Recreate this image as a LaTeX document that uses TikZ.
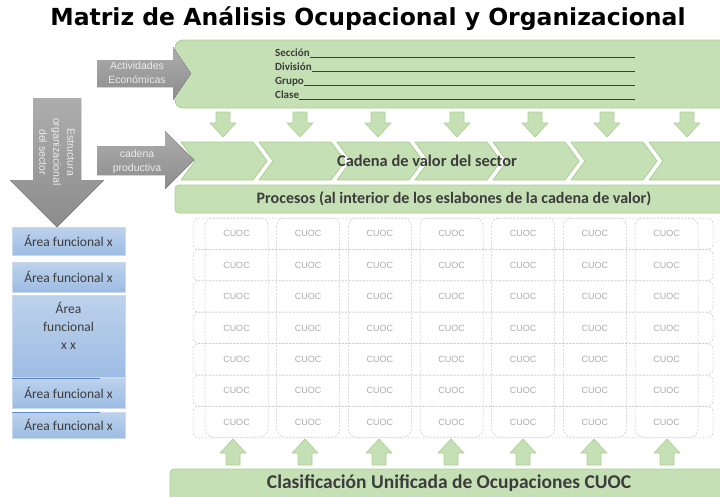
\documentclass[tikz,border=0pt]{standalone}
\usepackage{fontspec}
\setmainfont{Carlito}
\newfontfamily\titulofont{DejaVu Sans}
\newfontfamily\arialfont{Liberation Sans}
\definecolor{verde}{HTML}{C5E0B4}
\definecolor{verdeborde}{HTML}{A9CF91}
\definecolor{grisclaro}{HTML}{ADADAD}
\definecolor{grisoscuro}{HTML}{8C8C8C}
\definecolor{azulclaro}{HTML}{BDD2EC}
\definecolor{azul}{HTML}{9DBCE3}
\definecolor{azulborde}{HTML}{C9DAEF}
\definecolor{azullinea}{HTML}{5A8AC6}
\definecolor{textogris}{HTML}{3C3C3C}
\definecolor{cuocgris}{HTML}{ABABAB}
\definecolor{lineagris}{HTML}{C4C4C4}
\begin{document}
\begin{tikzpicture}[x=1pt,y=-1pt,
  verdebox/.style={fill=verde,draw=verdeborde,line width=.8pt},
  flechaverde/.style={fill=verde,draw=verdeborde,line width=.6pt},
  flechagris/.style={top color=grisclaro,bottom color=grisoscuro},
  textoflecha/.style={font=\arialfont\fontsize{10.5}{14}\selectfont,text=white!92!black,align=center},
  seccion/.style={font=\bfseries\fontsize{11}{12}\selectfont,text=textogris,inner sep=0pt},
  areabox/.style={top color=azulclaro,bottom color=azul,draw=azulborde,line width=.6pt},
  areatext/.style={font=\fontsize{13.5}{18}\selectfont,text=textogris,align=center},
  celda/.style={draw=lineagris,dash pattern=on 2pt off 1.5pt,line width=.5pt},
  cuoc/.style={font=\arialfont\fontsize{9}{10}\selectfont,text=cuocgris}]
\clip (0,0) rectangle (720,496);
\node[font=\titulofont\bfseries\fontsize{23.5}{28}\selectfont] (titulo) at (368,19) {Matriz de Análisis Ocupacional y Organizacional};
\draw[verdebox,rounded corners=8pt] (175,40) rectangle (735,108);
\foreach \n/\t/\y in {secc/Sección/56,divi/División/70,grupo/Grupo/84,clase/Clase/98}{
  \node[seccion,anchor=base west] (\n) at (275,\y) {\t};
  \draw[textogris,line width=.6pt] ([yshift=-1pt]\n.base east) -- ([yshift=-1pt]\n.base east -| 635,0);
}
\foreach \x in {223,300,378,457,535,607,687}
  \draw[flechaverde] (\x-7,112) -- (\x+7,112) -- (\x+7,123) -- (\x+13,123) -- (\x,137) -- (\x-13,123) -- (\x-7,123) -- cycle;
\foreach \i in {0,...,6}
  \draw[verdebox] ({181+78*\i},142) -- ++(72,0) -- ++(14,19) -- ++(-14,19) -- ++(-72,0) -- ++(14,-19) -- cycle;
\node[font=\bfseries\fontsize{16.4}{19}\selectfont,text=textogris] (cadenavalor) at (427,161) {Cadena de valor del sector};
\draw[verdebox,rounded corners=4pt] (175,185) rectangle (735,213);
\node[font=\bfseries\fontsize{16}{19}\selectfont,text=textogris] (procesos) at (454,199) {Procesos (al interior de los eslabones de la cadena de valor)};
\fill[flechagris] (97,60) -- (173,60) -- (173,47) -- (191,73.5) -- (173,100) -- (173,87) -- (97,87) -- cycle;
\node[textoflecha] (actividades) at (137,73) {Actividades\\Económicas};
\fill[flechagris] (97,146) -- (165,146) -- (165,131) -- (194,160) -- (165,189) -- (165,175) -- (97,175) -- cycle;
\node[textoflecha] (cadenaprod) at (137,162) {cadena\\productiva};
\fill[flechagris] (33,98) -- (81,98) -- (81,180) -- (104,180) -- (57,227) -- (10,180) -- (33,180) -- cycle;
\node[textoflecha,rotate=-90] (estructura) at (57,152) {Estructura\\organizacional\\del sector};
\foreach \ya/\yb in {227/255,262/292,295/377,378/408,412/438}
  \draw[areabox] (12,\ya) rectangle (125,\yb);
\draw[azullinea,line width=1pt] (12,378) -- (100,378) (12,412) -- (100,412);
\foreach \n/\y in {1/241,2/277,4/393,5/425}
  \node[areatext] (area\n) at (68.5,\y) {Área funcional x};
\node[areatext] (area3) at (68.5,326) {Área\\funcional\\x x};
\foreach \j in {0,...,6}
  \draw[celda,rounded corners=8pt] ({205+71.67*\j},218) rectangle ++(63,219);
\foreach \i in {0,...,6}
  \draw[celda,rounded corners=6pt] (193,{218+31.4*\i}) rectangle ++(520,31.4);
\foreach \i in {0,...,6}
  \foreach \j in {0,...,6}
    \node[cuoc] (c\i\j) at ({236.5+71.67*\j},{233.7+31.4*\i}) {CUOC};
\foreach \x in {233,305,379,451,523,594,667}
  \draw[flechaverde] (\x,439) -- (\x+13,453) -- (\x+7,453) -- (\x+7,465) -- (\x-7,465) -- (\x-7,453) -- (\x-13,453) -- cycle;
\draw[verdebox,rounded corners=4pt] (170,469) rectangle (735,505);
\node[font=\bfseries\fontsize{19.5}{23}\selectfont,text=textogris] (clasificacion) at (449,483) {Clasificación Unificada de Ocupaciones CUOC};
\end{tikzpicture}
\end{document}
